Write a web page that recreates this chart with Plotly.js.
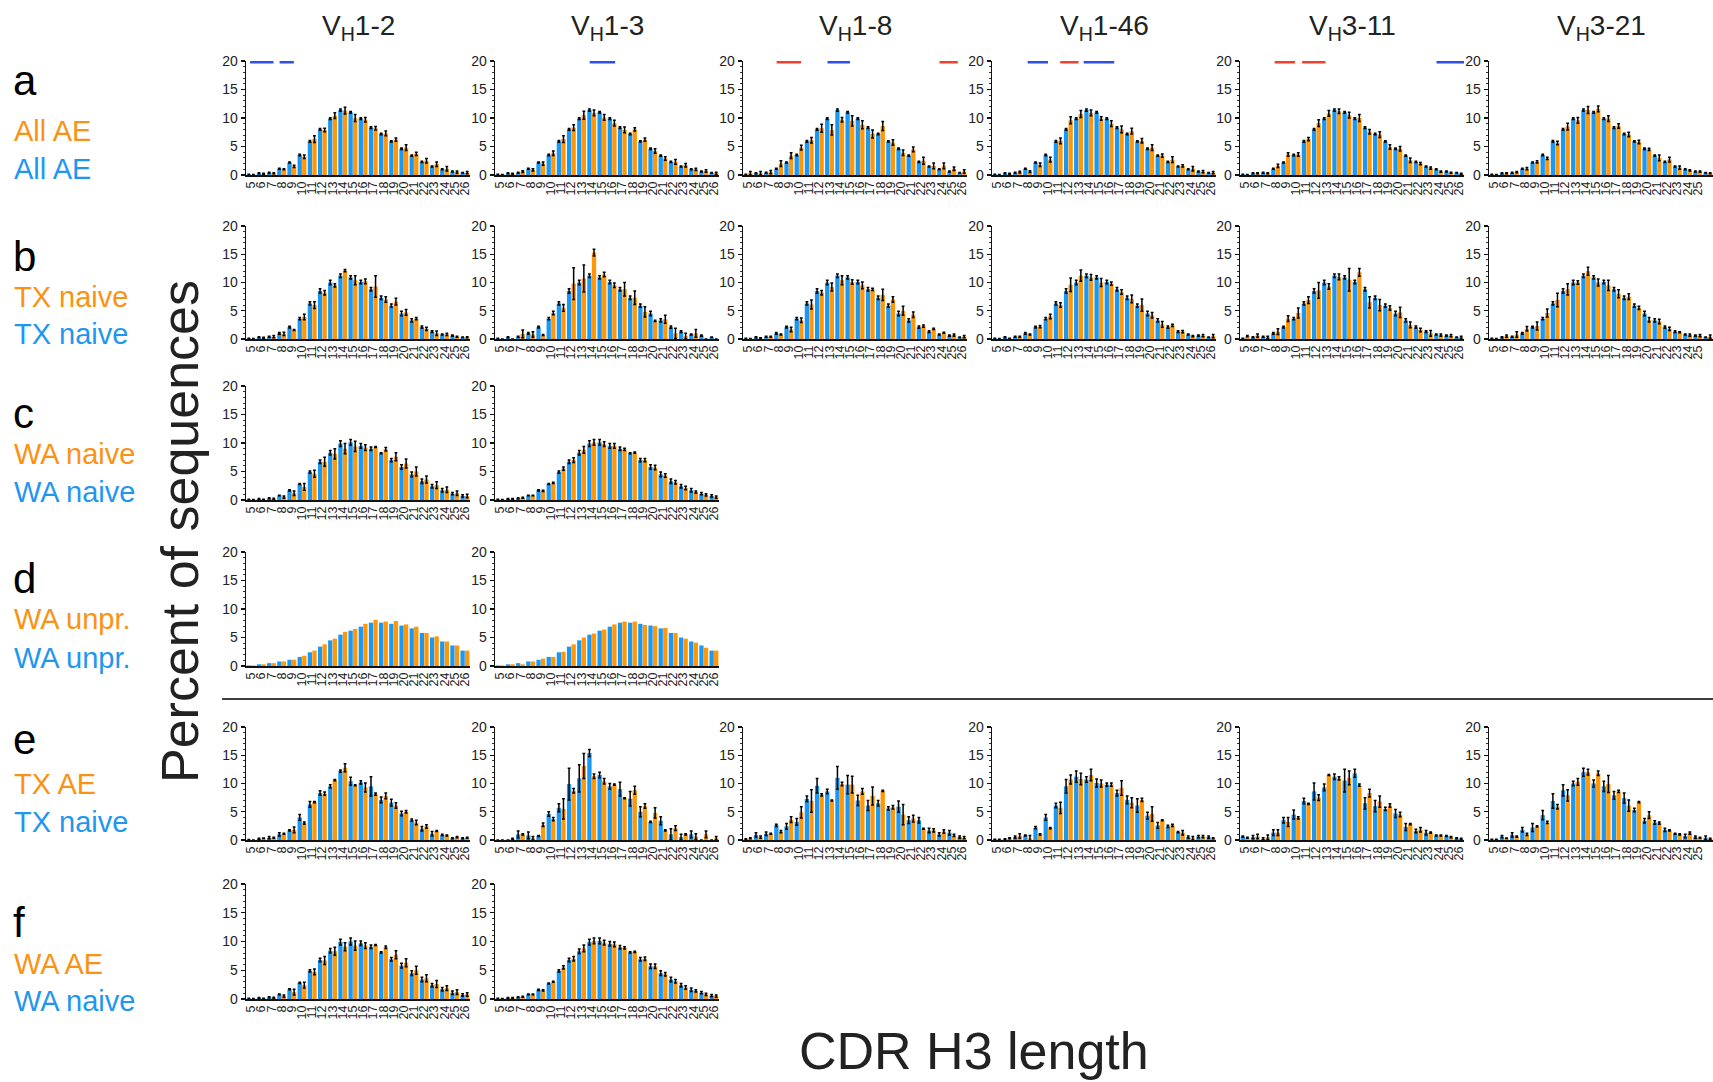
<!DOCTYPE html>
<html><head><meta charset="utf-8">
<script src="https://cdn.plot.ly/plotly-3.0.1.min.js"></script>
<style>html,body{margin:0;padding:0;background:#fff}#chart{width:1713px;height:1082px}</style>
</head><body><div id="chart"></div>
<script>
// ---------- DATA ----------
const lengths = [5,6,7,8,9,10,11,12,13,14,15,16,17,18,19,20,21,22,23,24,25,26];
const lengthLabels = lengths.map(String);
const genes = ["V<sub>H</sub>1-2","V<sub>H</sub>1-3","V<sub>H</sub>1-8","V<sub>H</sub>1-46","V<sub>H</sub>3-11","V<sub>H</sub>3-21"];
const rowLetters = ["a","b","c","d","e","f"];
const rowOrangeLabels = ["All AE","TX naive","WA naive","WA unpr.","TX AE","WA AE"];
const rowBlueLabels = ["All AE","TX naive","WA naive","WA unpr.","TX naive","WA naive"];

// Row a: blue = all V genes (All AE), orange = gene-specific
const a_blue     = [0.1,0.3,0.4,1.1,2.2,3.5,5.9,8.0,9.9,11.4,11.0,9.9,8.3,7.2,5.9,4.6,3.4,2.3,1.5,1.0,0.6,0.4];
const a_blue_err = [0.05,0.08,0.08,0.1,0.1,0.12,0.15,0.15,0.15,0.2,0.15,0.15,0.15,0.12,0.12,0.12,0.12,0.1,0.1,0.08,0.08,0.06];
const a1_or      = [0.05,0.2,0.3,1.0,1.5,3.2,6.3,7.9,10.4,11.3,10.0,9.7,8.2,7.3,6.2,4.8,3.7,2.5,1.9,1.1,0.5,0.4];
const a1_or_err  = [0.05,0.1,0.1,0.1,0.2,0.3,0.6,0.3,0.5,0.6,0.6,0.4,0.3,0.4,0.3,0.5,0.3,0.4,0.4,0.4,0.2,0.2];
const a2_or      = [0.05,0.2,0.6,0.9,2.0,3.8,6.3,8.3,10.5,10.9,10.1,9.1,7.9,8.0,6.2,4.2,2.9,2.3,1.7,1.0,0.7,0.3];
const a2_or_err  = [0.05,0.1,0.15,0.2,0.3,0.4,0.6,0.5,0.7,0.5,0.5,0.5,0.5,0.3,0.3,0.4,0.3,0.4,0.3,0.2,0.2,0.2];
const a3_or      = [0.3,0.3,0.5,2.0,3.4,4.8,6.1,8.2,7.9,9.7,9.5,8.8,7.2,8.6,5.7,3.9,4.5,2.5,1.6,1.6,1.1,0.6];
const a3_or_err  = [0.3,0.3,0.3,0.5,0.5,0.4,0.5,0.7,0.9,0.4,0.9,0.7,0.7,0.8,0.5,0.5,0.4,0.6,0.5,0.5,0.3,0.3];
const a4_or      = [0.05,0.2,0.5,0.6,1.8,2.7,6.0,9.6,10.7,10.9,9.9,9.0,8.0,7.7,6.0,4.8,3.4,2.7,1.6,1.1,0.6,0.4];
const a4_or_err  = [0.05,0.1,0.15,0.15,0.3,0.4,0.5,0.6,0.6,0.5,0.3,0.5,0.6,0.5,0.4,0.5,0.3,0.5,0.2,0.4,0.2,0.2];
const a5_or      = [0.05,0.3,0.3,1.6,3.6,3.6,6.3,9.1,10.8,11.2,10.5,10.0,7.6,7.1,4.9,4.6,2.6,2.0,1.2,0.6,0.4,0.2];
const a5_or_err  = [0.05,0.1,0.1,0.3,0.3,0.3,0.3,0.6,0.5,0.4,0.5,0.6,0.4,0.5,0.4,0.4,0.4,0.2,0.2,0.1,0.1,0.1];
const a6_or      = [0.05,0.3,0.5,1.1,2.3,2.9,5.6,8.5,9.6,11.4,11.6,9.9,8.6,7.1,5.8,4.5,3.0,2.7,1.3,0.8,0.6,0.3];
const a6_or_err  = [0.05,0.1,0.1,0.2,0.2,0.2,0.3,0.6,0.5,0.6,0.5,0.5,0.4,0.4,0.3,0.2,0.5,0.4,0.3,0.1,0.1,0.1];

// Row b: TX naive
const b_blue     = [0.1,0.3,0.4,1.0,2.1,3.6,6.3,8.5,10.0,11.2,10.9,10.1,8.8,7.3,5.9,4.5,3.3,2.1,1.3,0.8,0.6,0.3];
const b_blue_err = [0.05,0.1,0.1,0.15,0.15,0.2,0.3,0.4,0.4,0.3,0.3,0.3,0.3,0.3,0.3,0.4,0.3,0.2,0.15,0.1,0.1,0.05];
const b1_or      = [0.05,0.2,0.4,0.9,1.6,3.9,6.0,8.2,9.5,12.1,10.4,10.2,9.3,7.0,6.6,4.7,3.6,1.8,1.0,0.8,0.4,0.3];
const b1_or_err  = [0.05,0.1,0.2,0.3,0.1,0.5,0.6,0.4,0.3,0.2,0.8,0.4,1.9,0.5,0.6,0.5,0.2,0.3,0.4,0.2,0.1,0.1];
const b2_or      = [0,0,0.9,0.8,0.7,4.6,5.5,9.8,10.7,15.3,11.4,9.5,8.8,7.3,4.8,3.2,3.5,1.0,0.5,1.0,0,0];
const b2_or_err  = [0,0,0.7,0.5,0.1,0.3,0.6,2.8,2.4,0.6,0.4,0.4,1.2,1.2,0.9,0.1,0.7,0.9,0.5,0.7,0,0];
const b3_or      = [0.05,0.1,0.4,0.8,1.7,3.3,6.1,8.2,9.2,10.4,10.1,9.5,8.8,7.8,7.0,5.0,4.3,2.3,1.8,1.1,0.7,0.4];
const b3_or_err  = [0.05,0.1,0.1,0.1,0.4,0.4,0.8,0.4,0.7,0.8,0.4,0.6,0.2,1.0,0.5,0.8,0.5,0.2,0.1,0.1,0.2,0.2];
const b4_or      = [0.05,0.1,0.4,0.8,2.2,4.0,6.0,9.6,11.2,10.9,10.0,9.8,8.3,7.1,6.0,4.2,2.6,2.4,1.3,0.5,0.6,0.5];
const b4_or_err  = [0.05,0.05,0.1,0.1,0.2,0.4,0.4,1.2,1.0,0.5,0.7,0.3,0.4,0.7,1.1,0.5,0.5,0.2,0.2,0.1,0.2,0.3];
const b5_or      = [0.5,0.6,0.3,1.3,3.6,4.6,6.9,8.6,9.3,11.0,10.5,11.8,6.5,6.0,5.5,4.7,2.5,1.6,1.0,0.7,0.6,0.3];
const b5_or_err  = [0.1,0.3,0.2,0.5,0.5,0.9,0.6,1.4,0.5,0.5,2.0,0.7,1.0,1.0,0.4,0.9,0.5,0.3,0.5,0.2,0.2,0.2];
const b6_or      = [0.05,0.5,0.8,1.8,2.3,4.6,6.9,8.8,10.0,12.0,10.0,9.5,8.0,7.5,5.5,3.4,3.1,1.8,1.2,0.7,0.6,0.4];
const b6_or_err  = [0.05,0.2,0.5,0.4,0.7,0.7,1.2,1.0,0.3,0.7,0.6,0.9,0.7,0.5,0.3,0.4,0.4,0.3,0.1,0.2,0.2,0.3];

// Row c: WA naive
const c_blue     = [0.1,0.2,0.3,0.8,1.7,2.8,4.9,6.7,8.3,9.9,10.1,9.5,9.0,8.2,7.0,5.8,4.5,3.3,2.4,1.7,1.1,0.7];
const c_blue_err = [0.05,0.05,0.1,0.05,0.1,0.1,0.2,0.3,0.4,0.5,0.5,0.4,0.3,0.1,0.3,0.4,0.4,0.4,0.3,0.3,0.2,0.2];
const c1_or      = [0.05,0.1,0.2,0.5,1.2,2.3,4.6,6.7,8.1,9.0,9.4,9.2,9.3,8.9,7.6,6.4,5.0,3.6,2.6,1.8,1.2,0.7];
const c1_or_err  = [0.05,0.05,0.1,0.2,0.4,0.6,0.6,0.8,0.9,0.9,0.9,0.5,0.1,0.3,0.7,0.8,0.8,0.6,0.6,0.5,0.4,0.3];
const c2_or      = [0.05,0.2,0.4,0.8,1.6,3.0,5.5,7.0,8.8,10.1,9.8,9.5,8.9,8.3,7.0,5.7,4.3,3.1,2.1,1.4,0.9,0.5];
const c2_or_err  = [0.02,0.05,0.1,0.05,0.1,0.1,0.3,0.4,0.6,0.5,0.4,0.4,0.2,0.1,0.3,0.4,0.3,0.3,0.3,0.2,0.2,0.2];

// Row d: WA unproductive (no error bars)
const d_blue     = [0.1,0.3,0.5,0.8,1.1,1.6,2.4,3.4,4.5,5.5,6.2,6.9,7.6,7.6,7.4,7.1,6.6,5.8,5.0,4.3,3.6,2.7];
const d1_or      = [0.1,0.3,0.5,0.8,1.1,1.8,2.7,3.8,4.8,6.0,6.5,7.4,8.1,7.8,7.9,7.3,6.9,5.8,5.2,4.3,3.6,2.7];
const d2_or      = [0.1,0.3,0.3,0.8,1.3,1.6,2.5,3.8,5.0,5.7,6.4,7.3,7.8,7.8,7.2,7.0,6.7,5.8,4.8,4.1,3.2,2.7];

// Row e: blue = TX naive (gene), orange = TX AE (gene)
const e1_bl      = [0.05,0.2,0.4,1.0,1.7,4.0,6.3,8.3,9.5,12.2,10.4,10.2,9.5,7.1,6.6,4.7,3.5,2.0,1.1,0.9,0.3,0.3];
const e1_bl_err  = [0.05,0.1,0.2,0.3,0.1,0.5,0.5,0.4,0.3,0.2,0.7,0.3,1.7,0.5,0.6,0.4,0.2,0.4,0.4,0.1,0.1,0.1];
const e1_or      = [0,0.3,0.4,1.1,1.8,3.0,6.7,8.2,10.6,12.8,9.7,9.3,8.1,7.8,6.1,5.0,3.1,2.4,1.6,0.8,0.5,0.4];
const e1_or_err  = [0,0.05,0.1,0.1,0.5,0.2,0.1,0.3,0.1,0.7,0.1,0.8,0.2,0.5,0.5,0.2,0.4,0.3,0.1,0.1,0.1,0.1];
const e2_bl      = [0,0,1.0,0.8,0.7,4.6,5.7,9.9,10.9,15.4,11.5,9.5,9.0,7.3,5.0,3.2,3.4,1.0,0.5,1.0,0,0];
const e2_bl_err  = [0,0,0.6,0.6,0.1,0.4,0.7,2.8,2.4,0.6,0.5,0.5,1.2,1.3,0.9,0.1,0.7,1.0,0.5,0.6,0,0];
const e2_or      = [0,0.2,1.0,0.3,2.7,3.7,5.5,8.7,13.1,11.3,10.4,9.8,7.4,8.8,6.0,4.8,1.7,2.1,1.0,0.6,1.0,0.3];
const e2_or_err  = [0,0.1,0.1,0.3,0.3,0.3,1.8,0.4,2.2,0.4,0.5,0.1,0.1,0.7,0.4,0.9,0.1,0.4,0.1,0.5,0.6,0.3];
const e3_bl      = [0.1,0.9,1.1,2.6,2.4,3.2,7.3,9.6,8.6,11.0,9.8,7.0,6.1,6.5,5.6,5.9,3.5,3.5,1.7,1.0,1.3,0.5];
const e3_bl_err  = [0.1,0.4,0.3,0.2,0.5,0.6,0.5,1.3,0.4,2.0,1.6,0.9,0.9,0.5,0.3,1.0,0.6,0.5,0.4,0.3,0.4,0.2];
const e3_or      = [0.3,0.5,1.1,1.5,3.6,4.9,6.9,8.0,7.0,9.9,9.8,8.6,7.8,8.7,5.8,4.5,3.8,2.0,1.7,1.5,0.8,0.4];
const e3_or_err  = [0.1,0.2,0.1,0.2,0.5,1.0,2.0,0.2,0.1,0.3,1.5,0.5,1.6,0.1,0.3,1.8,0.6,0.1,0.3,0.3,0.2,0.2];
const e4_bl      = [0.1,0.1,0.5,0.8,2.2,4.0,6.1,9.5,11.2,10.7,10.1,9.8,8.3,7.1,6.1,4.3,2.6,2.4,1.4,0.5,0.6,0.5];
const e4_bl_err  = [0.05,0.1,0.2,0.1,0.2,0.5,0.4,1.2,1.0,0.5,0.7,0.3,0.5,0.7,1.2,0.6,0.5,0.2,0.1,0.2,0.2,0.2];
const e4_or      = [0.1,0.3,0.7,0.3,1.0,2.1,5.7,10.7,10.8,11.5,10.0,9.8,9.2,6.6,7.1,4.6,3.5,2.6,1.3,0.3,0.6,0.3];
const e4_or_err  = [0.05,0.1,0.4,0.5,0.1,0.1,1.0,0.8,1.0,1.0,0.6,0.3,1.3,0.9,0.3,1.3,0.1,0.2,0.4,0.3,0.2,0.1];
const e5_bl      = [0.6,0.5,0.2,1.3,3.5,4.5,6.9,8.6,9.3,11.2,10.5,11.8,6.5,6.0,5.5,4.7,2.3,1.6,1.3,0.8,0.7,0.3];
const e5_bl_err  = [0.1,0.3,0.2,0.5,0.5,0.8,0.5,1.5,0.6,0.5,2.0,0.7,1.0,1.0,0.3,0.7,0.6,0.3,0.4,0.1,0.1,0.1];
const e5_or      = [0.4,0.6,0.5,1.3,3.2,3.9,6.4,7.5,11.5,10.9,11.0,9.7,8.3,6.8,6.1,4.5,2.8,1.8,1.3,0.8,0.5,0.2];
const e5_or_err  = [0.1,0.4,0.4,0.5,0.8,0.2,0.1,0.5,0.1,0.3,1.2,0.2,0.7,1.0,0.3,0.4,0.1,0.4,0.1,0.1,0.1,0.1];
const e6_bl      = [0.1,0.6,0.9,1.8,2.2,4.4,6.9,8.8,10.0,12.0,10.0,9.5,7.9,7.4,5.3,3.4,3.1,1.8,1.1,0.7,0.5,0.4];
const e6_bl_err  = [0.05,0.2,0.4,0.4,0.7,0.8,1.3,1.0,0.4,0.7,0.6,0.9,0.7,0.9,0.3,0.4,0.3,0.3,0.1,0.3,0.2,0.3];
const e6_or      = [0.1,0.3,0.6,1.0,2.4,3.1,5.9,7.9,10.3,12.0,11.8,9.9,8.6,6.1,6.7,4.4,3.0,1.7,1.0,1.2,0.4,0.2];
const e6_or_err  = [0.05,0.05,0.1,0.2,0.1,0.2,0.4,1.0,0.6,0.5,0.4,1.5,0.2,1.0,0.1,0.6,0.2,0.1,0.1,0.2,0.1,0.1];

// Row f: blue = WA naive (gene), orange = WA AE (gene)
const f1_bl      = [0.1,0.2,0.3,0.8,1.7,2.8,4.9,6.8,8.4,9.9,10.0,9.7,9.1,8.1,6.9,5.8,4.5,3.4,2.4,1.7,1.1,0.7];
const f1_bl_err  = [0.05,0.05,0.1,0.05,0.1,0.1,0.2,0.3,0.4,0.5,0.6,0.4,0.3,0.1,0.3,0.4,0.4,0.4,0.3,0.3,0.3,0.2];
const f1_or      = [0.05,0.1,0.2,0.5,1.2,2.4,4.7,6.7,8.3,9.1,9.3,9.3,9.4,9.0,7.7,6.3,5.0,3.6,2.6,1.9,1.2,0.8];
const f1_or_err  = [0.05,0.05,0.1,0.2,0.5,0.5,0.5,0.7,0.7,0.7,0.8,0.5,0.1,0.2,0.7,0.7,0.7,0.6,0.6,0.4,0.4,0.3];
const f2_bl      = [0.1,0.2,0.3,0.8,1.6,2.7,4.9,6.8,8.3,9.9,10.1,9.6,9.0,8.1,6.9,5.7,4.5,3.4,2.4,1.6,1.1,0.6];
const f2_bl_err  = [0.05,0.05,0.1,0.05,0.1,0.1,0.2,0.3,0.4,0.5,0.5,0.4,0.3,0.1,0.3,0.4,0.4,0.4,0.3,0.3,0.2,0.2];
const f2_or      = [0.05,0.2,0.4,0.8,1.5,3.0,5.5,7.0,8.8,10.1,9.8,9.5,8.9,8.2,7.0,5.7,4.3,3.1,2.0,1.4,0.8,0.5];
const f2_or_err  = [0.02,0.05,0.1,0.05,0.1,0.1,0.3,0.4,0.6,0.5,0.4,0.4,0.2,0.1,0.3,0.4,0.3,0.3,0.3,0.2,0.2,0.2];

// Significance bars above row a (column index, start length, end length, colour)
const sigCol   = [0, 0, 1, 2, 2, 2, 3, 3, 3, 4, 4, 4];
const sigStart = [4.9, 7.8, 13.8, 7.8, 12.8, 23.8, 8.0, 11.2, 13.5, 7.9, 10.6, 23.8];
const sigEnd   = [7.2, 9.2, 16.3, 10.2, 15.0, 25.6, 10.0, 13.0, 16.5, 9.9, 12.9, 26.5];
const sigKind  = ["b","b","b","r","b","r","b","r","b","r","r","b"];

// ---------- LAYOUT / DRAW ----------
const W = 1713, H = 1082;
const colPx = [[246,470],[495,719],[743,967],[992,1216],[1240,1464],[1489,1713]];
const rowPx = [[61,175],[226,339],[386,500],[552,666],[727,840],[884,999]];
const BLUE = "#1a98f2", ORANGE = "#ff9708";
const BLUE_TXT = "#1f97ef", ORANGE_TXT = "#fa9214";
const SIG = {b: "#2a4ef0", r: "#f0412c"};

const panels = [
  [0,0,a_blue,a_blue_err,a1_or,a1_or_err],[0,1,a_blue,a_blue_err,a2_or,a2_or_err],
  [0,2,a_blue,a_blue_err,a3_or,a3_or_err],[0,3,a_blue,a_blue_err,a4_or,a4_or_err],
  [0,4,a_blue,a_blue_err,a5_or,a5_or_err],[0,5,a_blue,a_blue_err,a6_or,a6_or_err],
  [1,0,b_blue,b_blue_err,b1_or,b1_or_err],[1,1,b_blue,b_blue_err,b2_or,b2_or_err],
  [1,2,b_blue,b_blue_err,b3_or,b3_or_err],[1,3,b_blue,b_blue_err,b4_or,b4_or_err],
  [1,4,b_blue,b_blue_err,b5_or,b5_or_err],[1,5,b_blue,b_blue_err,b6_or,b6_or_err],
  [2,0,c_blue,c_blue_err,c1_or,c1_or_err],[2,1,c_blue,c_blue_err,c2_or,c2_or_err],
  [3,0,d_blue,null,d1_or,null],[3,1,d_blue,null,d2_or,null],
  [4,0,e1_bl,e1_bl_err,e1_or,e1_or_err],[4,1,e2_bl,e2_bl_err,e2_or,e2_or_err],
  [4,2,e3_bl,e3_bl_err,e3_or,e3_or_err],[4,3,e4_bl,e4_bl_err,e4_or,e4_or_err],
  [4,4,e5_bl,e5_bl_err,e5_or,e5_or_err],[4,5,e6_bl,e6_bl_err,e6_or,e6_or_err],
  [5,0,f1_bl,f1_bl_err,f1_or,f1_or_err],[5,1,f2_bl,f2_bl_err,f2_or,f2_or_err]
];

const FONT = "Liberation Sans, Arial, sans-serif";
const NARROW = "Liberation Sans Narrow, Liberation Sans, Arial, sans-serif";
const data = [];
const layout = {
  width: W, height: H, margin: {l:0,r:0,t:0,b:0},
  paper_bgcolor: "#fff", plot_bgcolor: "rgba(0,0,0,0)",
  showlegend: false, barmode: "group", bargap: 0.1, bargroupgap: 0.06,
  font: {family: FONT, color: "#222"},
  annotations: [], shapes: []
};

const axisIndex = {};
panels.forEach((p, i) => {
  const [r, c, bl, blErr, or, orErr] = p;
  const k = i + 1;
  const xa = "x" + (k === 1 ? "" : k), ya = "y" + (k === 1 ? "" : k);
  axisIndex[r + "_" + c] = k;
  const errStyle = arr => arr ? {type: "data", array: arr, visible: true, color: "#000", thickness: 1.5, width: 1.4} : {visible: false};
  data.push({type: "bar", x: lengths, y: bl, xaxis: xa, yaxis: ya, marker: {color: BLUE, line: {width: 0}}, error_y: errStyle(blErr), hoverinfo: "x+y"});
  data.push({type: "bar", x: lengths, y: or, xaxis: xa, yaxis: ya, marker: {color: ORANGE, line: {width: 0}}, error_y: errStyle(orErr), hoverinfo: "x+y"});
  layout["xaxis" + (k === 1 ? "" : k)] = {
    domain: [colPx[c][0]/W, colPx[c][1]/W], anchor: ya, range: [4.5, 26.5],
    tickmode: "array", tickvals: lengths, ticktext: lengthLabels, tickangle: -90,
    tickfont: {family: NARROW, size: 12.5, color: "#1a1a1a"},
    ticks: "", showline: true, linecolor: "#111", linewidth: 1.6,
    showgrid: false, zeroline: false, fixedrange: true
  };
  layout["yaxis" + (k === 1 ? "" : k)] = {
    domain: [1 - rowPx[r][1]/H, 1 - rowPx[r][0]/H], anchor: xa, range: [0, 20],
    tickmode: "array", tickvals: [0,5,10,15,20],
    ticks: "outside", ticklen: 4, tickwidth: 1.2, tickcolor: "#111",
    minor: {dtick: 1, ticks: "outside", ticklen: 2, tickwidth: 1, tickcolor: "#333", showgrid: false},
    tickfont: {family: FONT, size: 14, color: "#222"},
    showline: true, linecolor: "#111", linewidth: 1.4,
    showgrid: false, zeroline: false, fixedrange: true
  };
});

// significance bars on row a
sigCol.forEach((c, i) => {
  const k = axisIndex["0_" + c];
  layout.shapes.push({type: "line", xref: "x" + (k === 1 ? "" : k), yref: "y" + (k === 1 ? "" : k),
    x0: sigStart[i], x1: sigEnd[i], y0: 19.78, y1: 19.78, line: {color: SIG[sigKind[i]], width: 2.5}});
});

// separator line
layout.shapes.push({type: "line", xref: "paper", yref: "paper", x0: 222/W, x1: 1, y0: 1 - 699/H, y1: 1 - 699/H, line: {color: "#000", width: 1.6}});

// column titles
genes.forEach((g, c) => {
  layout.annotations.push({text: g, xref: "paper", yref: "paper", x: (colPx[c][0] + colPx[c][1]) / 2 / W, y: 1 - 28/H,
    xanchor: "center", yanchor: "middle", showarrow: false, font: {family: FONT, size: 28, color: "#222"}});
});

// row labels
const letterY = [80, 256, 413, 578, 739, 922];
const orY = [131, 297, 454, 619, 784, 964];
const blY = [169, 334, 492, 658, 822, 1001];
rowLetters.forEach((L, r) => {
  layout.annotations.push({text: L, xref: "paper", yref: "paper", x: 11/W, y: 1 - letterY[r]/H, xanchor: "left", yanchor: "middle",
    showarrow: false, font: {family: FONT, size: 42, color: "#000"}});
  layout.annotations.push({text: rowOrangeLabels[r], xref: "paper", yref: "paper", x: 12/W, y: 1 - orY[r]/H, xanchor: "left", yanchor: "middle",
    showarrow: false, font: {family: FONT, size: 29, color: ORANGE_TXT}});
  layout.annotations.push({text: rowBlueLabels[r], xref: "paper", yref: "paper", x: 12/W, y: 1 - blY[r]/H, xanchor: "left", yanchor: "middle",
    showarrow: false, font: {family: FONT, size: 29, color: BLUE_TXT}});
});

// axis titles
layout.annotations.push({text: "Percent of sequences", xref: "paper", yref: "paper", x: 180/W, y: 1 - 532/H, textangle: -90,
  xanchor: "center", yanchor: "middle", showarrow: false, font: {family: FONT, size: 52, color: "#222"}});
layout.annotations.push({text: "CDR H3 length", xref: "paper", yref: "paper", x: 974/W, y: 1 - 1051/H,
  xanchor: "center", yanchor: "middle", showarrow: false, font: {family: FONT, size: 52, color: "#222"}});

Plotly.newPlot("chart", data, layout, {displayModeBar: false, staticPlot: true});
</script></body></html>
